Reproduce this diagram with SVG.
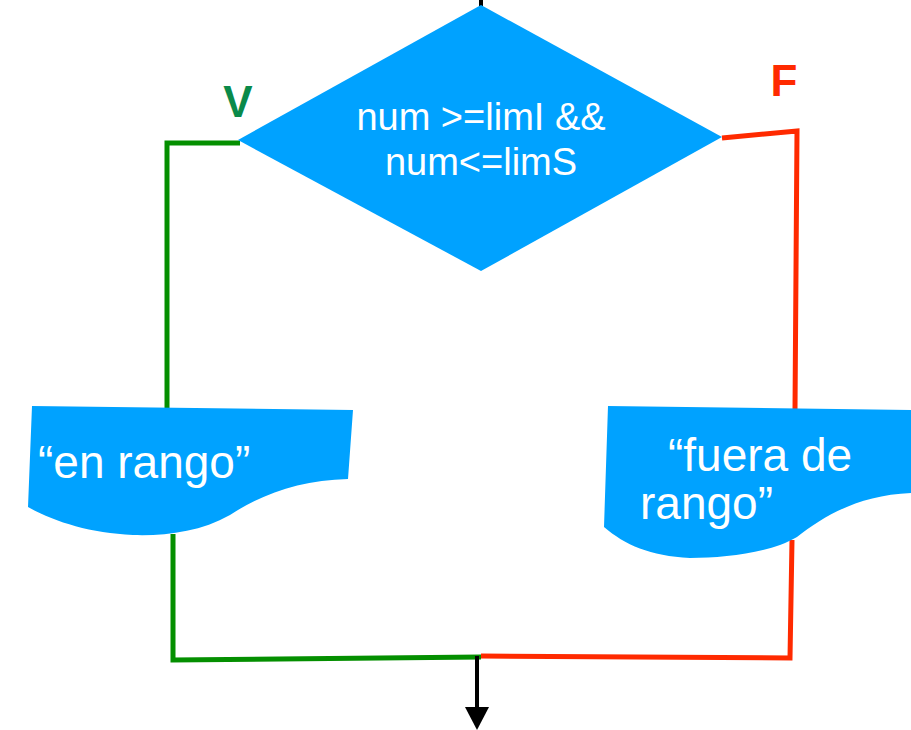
<svg xmlns="http://www.w3.org/2000/svg" width="911" height="730" viewBox="0 0 911 730">
<style>
.shape{fill:#00A2FF;}
.txt{font-family:"Liberation Sans",Arial,sans-serif;fill:#ffffff;}
.g{fill:none;stroke:#048F00;stroke-width:5;}
.r{fill:none;stroke:#FF2A00;stroke-width:5;}
.k{fill:none;stroke:#000;stroke-width:4;}
</style>
<rect width="911" height="730" fill="#ffffff"/>
<g id="connectors">
<line class="k" x1="481" y1="0" x2="481" y2="6"/>
<polyline class="g" points="240,143 167,143 167,408"/>
<polyline class="g" points="173,534 173,660 481,657"/>
<polyline class="r" points="722,138 797,131 795,410"/>
<polyline class="r" points="792,540 790,658 481,656"/>
<line class="k" x1="477" y1="656" x2="477" y2="710"/>
<polygon points="465,707 489,707 477,730" fill="#000"/>
</g>
<g id="label-v"><text x="238" y="117" font-family="Liberation Sans, Arial, sans-serif" font-weight="bold" font-size="44" fill="#0A8A4A" text-anchor="middle">V</text></g>
<g id="label-f"><text x="784" y="96" font-family="Liberation Sans, Arial, sans-serif" font-weight="bold" font-size="44" fill="#FF2A00" text-anchor="middle">F</text></g>
<g id="decision">
<polygon class="shape" points="481,5 722,137 481,271 238,140"/>
<text class="txt" x="481" y="130" font-size="38" text-anchor="middle">num &gt;=limI &amp;&amp;</text>
<text class="txt" x="481" y="175" font-size="38" text-anchor="middle">num&lt;=limS</text>
</g>
<g id="out-en-rango">
<path class="shape" d="M32,406 L353,410 L348,479 C300,480 260,495 230,515 C200,532 165,536 133,535 C90,533 55,522 28,507 Z"/>
<text class="txt" x="38" y="478" font-size="46">“en rango”</text>
</g>
<g id="out-fuera">
<path class="shape" d="M608,406 L911,410 L911,493 C860,495 825,515 797,537 C770,553 725,558 690,558 C650,556 625,545 604,527 Z"/>
<text class="txt" x="668" y="471" font-size="46">“fuera de</text>
<text class="txt" x="640" y="519" font-size="46">rango”</text>
</g>
</svg>
